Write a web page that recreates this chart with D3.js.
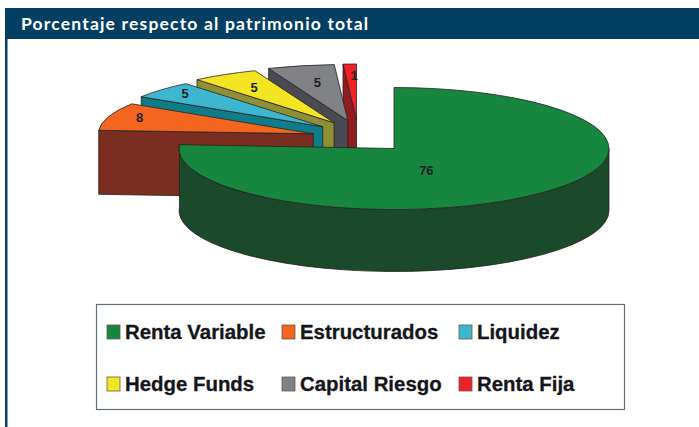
<!DOCTYPE html>
<html><head><meta charset="utf-8">
<script src="https://cdn.jsdelivr.net/npm/d3@7/dist/d3.min.js"></script>
<style>html,body{margin:0;padding:0;background:#fff}svg{display:block}</style></head>
<body><svg id="c" width="699" height="427"></svg>
<script>
const categories=["Renta Variable","Estructurados","Liquidez","Hedge Funds","Capital Riesgo","Renta Fija"];
const values=[76,8,5,5,5,1];
const topColors=["#17873f","#f4651f","#3db7d0","#f3e522","#808285","#ee2226"];
const sideColors=["#1a4a2b","#7b2e1f","#0f7c8a","#8f8f36","#4a4a52","#8e1c20"];
const title="Porcentaje respecto al patrimonio total";

const W=699,H=427;
const svg=d3.select("#c");
const ink="#26231f";
svg.append("rect").attr("x",5).attr("y",8).attr("width",W-5).attr("height",31).attr("fill","#023f63");
svg.append("rect").attr("x",5).attr("y",39).attr("width",2.5).attr("height",H-39).attr("fill","#023f63");
svg.append("text").attr("x",21).attr("y",29.5).attr("fill","#fff")
  .attr("font-family","Lato").attr("font-weight",700).attr("font-size",17.5).attr("letter-spacing",1.18).text(title);

const topColor=d3.scaleOrdinal(categories,topColors), sideColor=d3.scaleOrdinal(categories,sideColors);
const arcs=d3.pie().sort(null).value((d,i)=>values[i]).startAngle(0).endAngle(2*Math.PI)(categories);

const depth=62, fan={cx:358,cy:140,ex:47,ey:20,rx:215,ry:56}, big={cx:394,cy:148.5,rx:215,ry:61};
// how far along the slice's middle each value label sits, across and down
const labelFrac=[[.22,.49],[.85,.97],[.854,.89],[.73,.74],[.65,.70],[.37,.80]];
function geom(a){
  const mid=(a.startAngle+a.endAngle)/2;
  if(a.index===0) return {...big,ox:big.cx,oy:big.cy,depth:depth};
  return {...fan,ox:fan.cx+fan.ex*Math.sin(mid),oy:fan.cy-fan.ey*Math.cos(mid),depth:64};
}
const pt=(g,t,dy=0)=>[g.ox+g.rx*Math.sin(t),g.oy-g.ry*Math.cos(t)+dy];
function rim(p,g,t0,t1,dy){
  const e=pt(g,t1,dy);
  p.push(`A${g.rx},${g.ry} 0 ${t1-t0>Math.PI?1:0} 1 ${e[0]},${e[1]}`);
}
// back to front: smallest last slice first, green last
const order=arcs.slice().sort((a,b)=>b.index-a.index);
order.forEach(a=>{
  const g=geom(a),c=a.data,t0=a.startAngle,t1=a.endAngle;
  const s=svg.append("g").attr("stroke",ink).attr("stroke-width",0.8).attr("stroke-linejoin","round");
  const A=pt(g,t0);
  if(a.index>0){
    s.append("path").attr("fill",sideColor(c)).attr("d",
     `M${A}L${g.ox},${g.oy}L${g.ox},${g.oy+g.depth}L${A[0]},${A[1]+g.depth}Z`);
  } else {
    const from=Math.PI/2, P=pt(g,from), Q=pt(g,t1), Q2=pt(g,from,g.depth);
    const d=[`M${P}`]; rim(d,g,from,t1,0);
    d.push(`L${Q[0]},${Q[1]+g.depth}`);
    d.push(`A${g.rx},${g.ry} 0 1 0 ${Q2[0]},${Q2[1]}`);
    d.push("Z");
    s.append("path").attr("fill",sideColor(c)).attr("d",d.join(""));
  }
  const d=[`M${g.ox},${g.oy}L${A}`]; rim(d,g,t0,t1,0); d.push("Z");
  s.append("path").attr("fill",topColor(c)).attr("d",d.join(""));
});
// value labels
arcs.forEach(a=>{
  const g=geom(a),mid=(a.startAngle+a.endAngle)/2,[fx,fy]=labelFrac[a.index];
  svg.append("text").attr("x",g.ox+g.rx*fx*Math.sin(mid)).attr("y",g.oy-g.ry*fy*Math.cos(mid)+4.5)
    .attr("text-anchor","middle").attr("font-family","Liberation Sans").attr("font-weight",700)
    .attr("font-size",13).attr("fill","#1c1f22").text(values[a.index]);
});
// legend
svg.append("rect").attr("x",96.5).attr("y",304.5).attr("width",528).attr("height",105)
  .attr("fill","#fff").attr("stroke","#5f6d78").attr("stroke-width",1.2);
const colX=d3.scalePoint().domain([0,1,2]).range([107,459]);
const rowY=d3.scalePoint().domain([0,1]).range([332,384]);
categories.forEach((c,i)=>{
  const col=i%3,row=Math.floor(i/3),x=colX(col)-(col===1?1:0),y=rowY(row);
  svg.append("rect").attr("x",x).attr("y",y-7).attr("width",13).attr("height",14)
    .attr("fill",topColor(c)).attr("stroke","#6b5a4a").attr("stroke-width",0.8);
  svg.append("text").attr("x",x+18).attr("y",y+7).attr("font-family","Liberation Sans").attr("font-weight",700)
    .attr("font-size",20.4).attr("fill","#14161a").attr("stroke","#14161a").attr("stroke-width",0.3).text(c);
});
</script></body></html>
